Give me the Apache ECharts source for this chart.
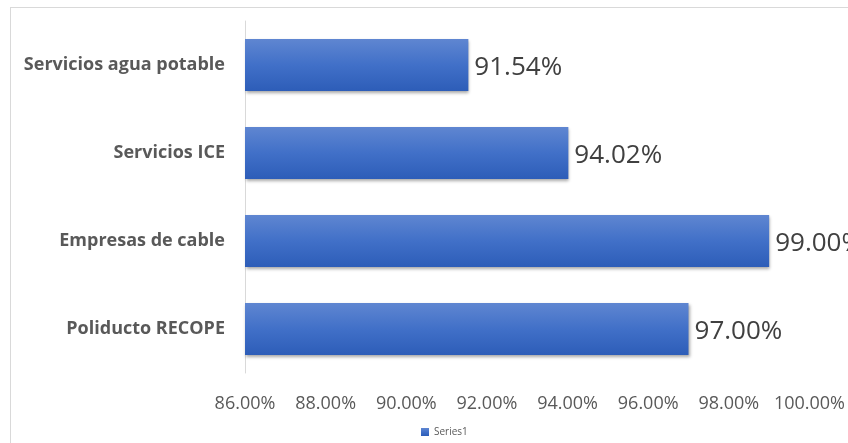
<!DOCTYPE html>
<html><head><meta charset="utf-8">
<script src="https://cdn.jsdelivr.net/npm/echarts@6/dist/echarts.min.js"></script>
<style>html,body{margin:0;padding:0;background:#fff}#c{width:848px;height:443px}</style>
</head><body><div id="c"></div>
<script>
const categories = ['Poliducto RECOPE', 'Empresas de cable', 'Servicios ICE', 'Servicios agua potable'];
const values = [97.00, 99.00, 94.02, 91.54];
const seriesName = 'Series1';
const xMin = 86, xMax = 100, xStep = 2;

const font = '"Open Sans", sans-serif';
const chart = echarts.init(document.getElementById('c'));
chart.setOption({
  animation: false,
  graphic: [
    {type: 'line', shape: {x1: 10, y1: 7.5, x2: 848, y2: 7.5}, style: {stroke: '#d9d9d9', lineWidth: 1}},
    {type: 'line', shape: {x1: 10.5, y1: 7, x2: 10.5, y2: 443}, style: {stroke: '#d9d9d9', lineWidth: 1}}
  ],
  grid: {left: 245, right: 38, top: 21, bottom: 70},
  legend: {
    bottom: 1, left: 416, itemWidth: 8, itemHeight: 8, itemGap: 4,
    textStyle: {fontSize: 10, color: '#595959', fontFamily: font},
    data: [{name: seriesName, icon: 'rect'}]
  },
  xAxis: {
    type: 'value', min: xMin, max: xMax, interval: xStep,
    axisLine: {show: false}, axisTick: {show: false}, splitLine: {show: false},
    axisLabel: {formatter: v => v.toFixed(2) + '%', fontSize: 18, color: '#595959', fontFamily: font, margin: 22}
  },
  yAxis: {
    type: 'category', data: categories,
    axisLine: {show: true, lineStyle: {color: '#d9d9d9'}}, axisTick: {show: false},
    axisLabel: {fontSize: 18, fontWeight: 'bold', color: '#595959', fontFamily: font, margin: 20}
  },
  series: [{
    name: seriesName, type: 'bar', data: values, barWidth: 52,
    itemStyle: {
      color: new echarts.graphic.LinearGradient(0, 0, 0, 1, [
        {offset: 0, color: '#5f86d1'}, {offset: 0.5, color: '#4170c8'}, {offset: 1, color: '#2d5db8'}
      ]),
      shadowColor: 'rgba(0,0,0,0.35)', shadowBlur: 3, shadowOffsetY: 2, shadowOffsetX: 1
    },
    label: {
      show: true, position: 'right', distance: 6, offset: [0, 3], formatter: p => p.value.toFixed(2) + '%',
      fontSize: 26, color: '#404040', fontFamily: font
    }
  }]
});
</script></body></html>
